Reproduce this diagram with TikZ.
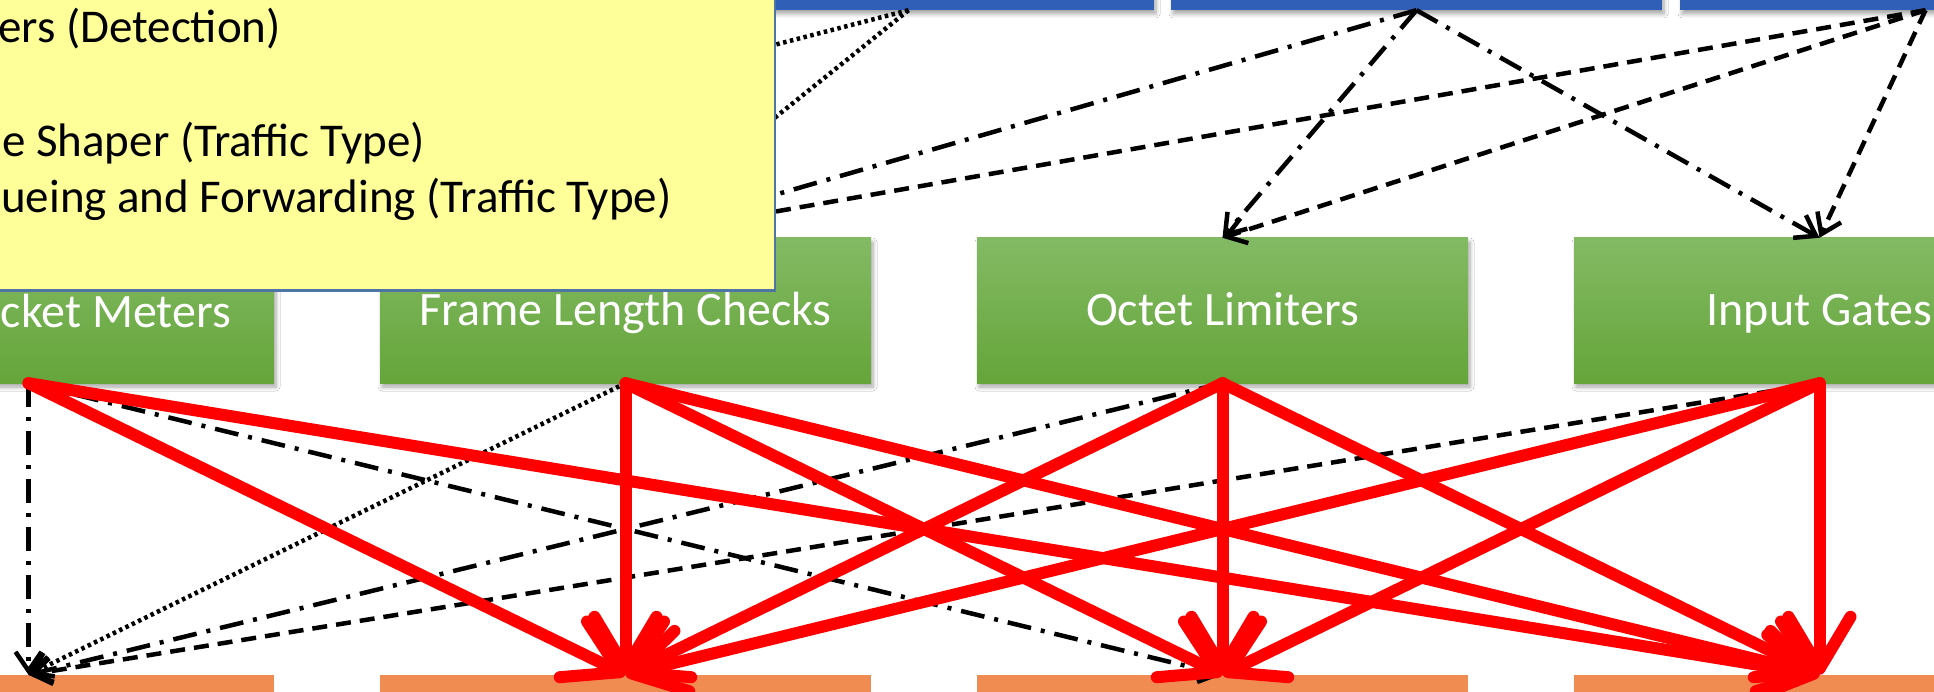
\documentclass[tikz,border=0pt]{standalone}
\usepackage{fontspec}
\setmainfont{Carlito}
\usetikzlibrary{arrows.meta,shadows,shadows.blur}
\definecolor{bluefill}{RGB}{47,95,182}
\definecolor{greentop}{RGB}{131,186,100}
\definecolor{greenbot}{RGB}{101,165,58}
\definecolor{orangefill}{RGB}{240,139,82}
\definecolor{legendfill}{RGB}{255,255,153}
\definecolor{legendedge}{RGB}{79,117,165}
\definecolor{arrowred}{RGB}{255,0,0}
\begin{document}
\begin{tikzpicture}[x=1pt,y=-1pt,
  boxshadow/.style={blur shadow={shadow xshift=2pt,shadow yshift=-4pt,shadow blur radius=4pt,shadow blur steps=6,shadow opacity=35}},
  bluebx/.style={rectangle,fill=bluefill,minimum width=491pt,minimum height=100pt,inner sep=0pt,boxshadow},
  greenbx/.style={rectangle,top color=greentop,bottom color=greenbot,minimum width=491pt,minimum height=145pt,inner sep=0pt,
    text=white,font=\fontsize{48}{56}\selectfont,text height=31pt,text depth=0pt,boxshadow},
  orangebx/.style={rectangle,fill=orangefill,minimum width=491pt,minimum height=100pt,inner sep=0pt},
  legendbx/.style={rectangle,fill=legendfill,draw=legendedge,line width=2.5pt,inner sep=0pt},
  legtext/.style={inner sep=0pt,font=\fontsize{47}{55}\selectfont,text=black},
  greenlabel/.style={inner sep=0pt,text=white,font=\fontsize{48}{56}\selectfont},
  blackhead/.style={-{Straight Barb[length=19pt,width=26pt]}},
  dotline/.style={black,line width=4.5pt,dash pattern=on 3.5pt off 3.5pt,blackhead},
  dashdotline/.style={black,line width=4.5pt,dash pattern=on 24pt off 10pt on 4pt off 10pt,blackhead},
  dashline/.style={black,line width=4.5pt,dash pattern=on 15pt off 9pt,blackhead},
  redline/.style={arrowred,line width=12pt,line cap=round,-{Straight Barb[length=52pt,width=62pt,round]}}
]
\useasboundingbox (0,0) rectangle (1934,692);
\clip (0,0) rectangle (1934,692);
\fill[white] (0,0) rectangle (1934,692);

% top (blue) row
\node[bluebx] (b1) at (908.5,-40) {};
\node[bluebx] (b2) at (1416.5,-40) {};
\node[bluebx] (b3) at (1925.5,-40) {};

% middle (green) row
\node[greenbx] (g1) at (28.5,310.5) {};
\node[greenbx] (g2) at (625.5,310.5) {Frame Length Checks};
\node[greenbx] (g3) at (1222.5,310.5) {Octet Limiters};
\node[greenbx] (g4) at (1819.5,310.5) {Input Gates};
\node[greenlabel,anchor=base east] (g1t) at (231,327) {cket Meters};

% bottom (orange) row
\node[orangebx] (o1) at (28.5,725) {};
\node[orangebx] (o2) at (625.5,725) {};
\node[orangebx] (o3) at (1222.5,725) {};
\node[orangebx] (o4) at (1819.5,725) {};

% blue -> green connectors
\draw[dotline] (b1.south) -- (g1.north);
\draw[dotline] (b1.south) -- (g2.north);
\draw[dashdotline] (b2.south) -- (g2.north);
\draw[dashdotline] (b2.south) -- (g3.north);
\draw[dashdotline] (b2.south) -- (g4.north);
\draw[dashline] (b3.south) -- (g2.north);
\draw[dashline] (b3.south) -- (g3.north);
\draw[dashline] (b3.south) -- (g4.north);

% green -> orange black connectors
\draw[dashdotline] (g1.south) -- (o1.north);
\draw[dashdotline] (g1.south) -- (o3.north);
\draw[dotline] (g2.south) -- (o1.north);
\draw[dashdotline] (g3.south) -- (o1.north);
\draw[dashline] (g4.south) -- (o1.north);

% green -> orange red connectors
\draw[redline] (g1.south) -- (o2.north);
\draw[redline] (g1.south) -- (o4.north);
\draw[redline] (g2.south) -- (o2.north);
\draw[redline] (g2.south) -- (o3.north);
\draw[redline] (g2.south) -- (o4.north);
\draw[redline] (g3.south) -- (o2.north);
\draw[redline] (g3.south) -- (o3.north);
\draw[redline] (g3.south) -- (o4.north);
\draw[redline] (g4.south) -- (o2.north);
\draw[redline] (g4.south) -- (o3.north);
\draw[redline] (g4.south) -- (o4.north);

% legend
\node[legendbx,minimum width=900pt,minimum height=400pt,anchor=south east] (leg) at (776,292) {};
\node[legtext,anchor=base east] (l1) at (281,43) {ers (Detection)};
\node[legtext,anchor=base east] (l3) at (425,157) {e Shaper (Traffic Type)};
\node[legtext,anchor=base west] (l4) at (1,213) {ueing and Forwarding (Traffic Type)};
\end{tikzpicture}
\end{document}
